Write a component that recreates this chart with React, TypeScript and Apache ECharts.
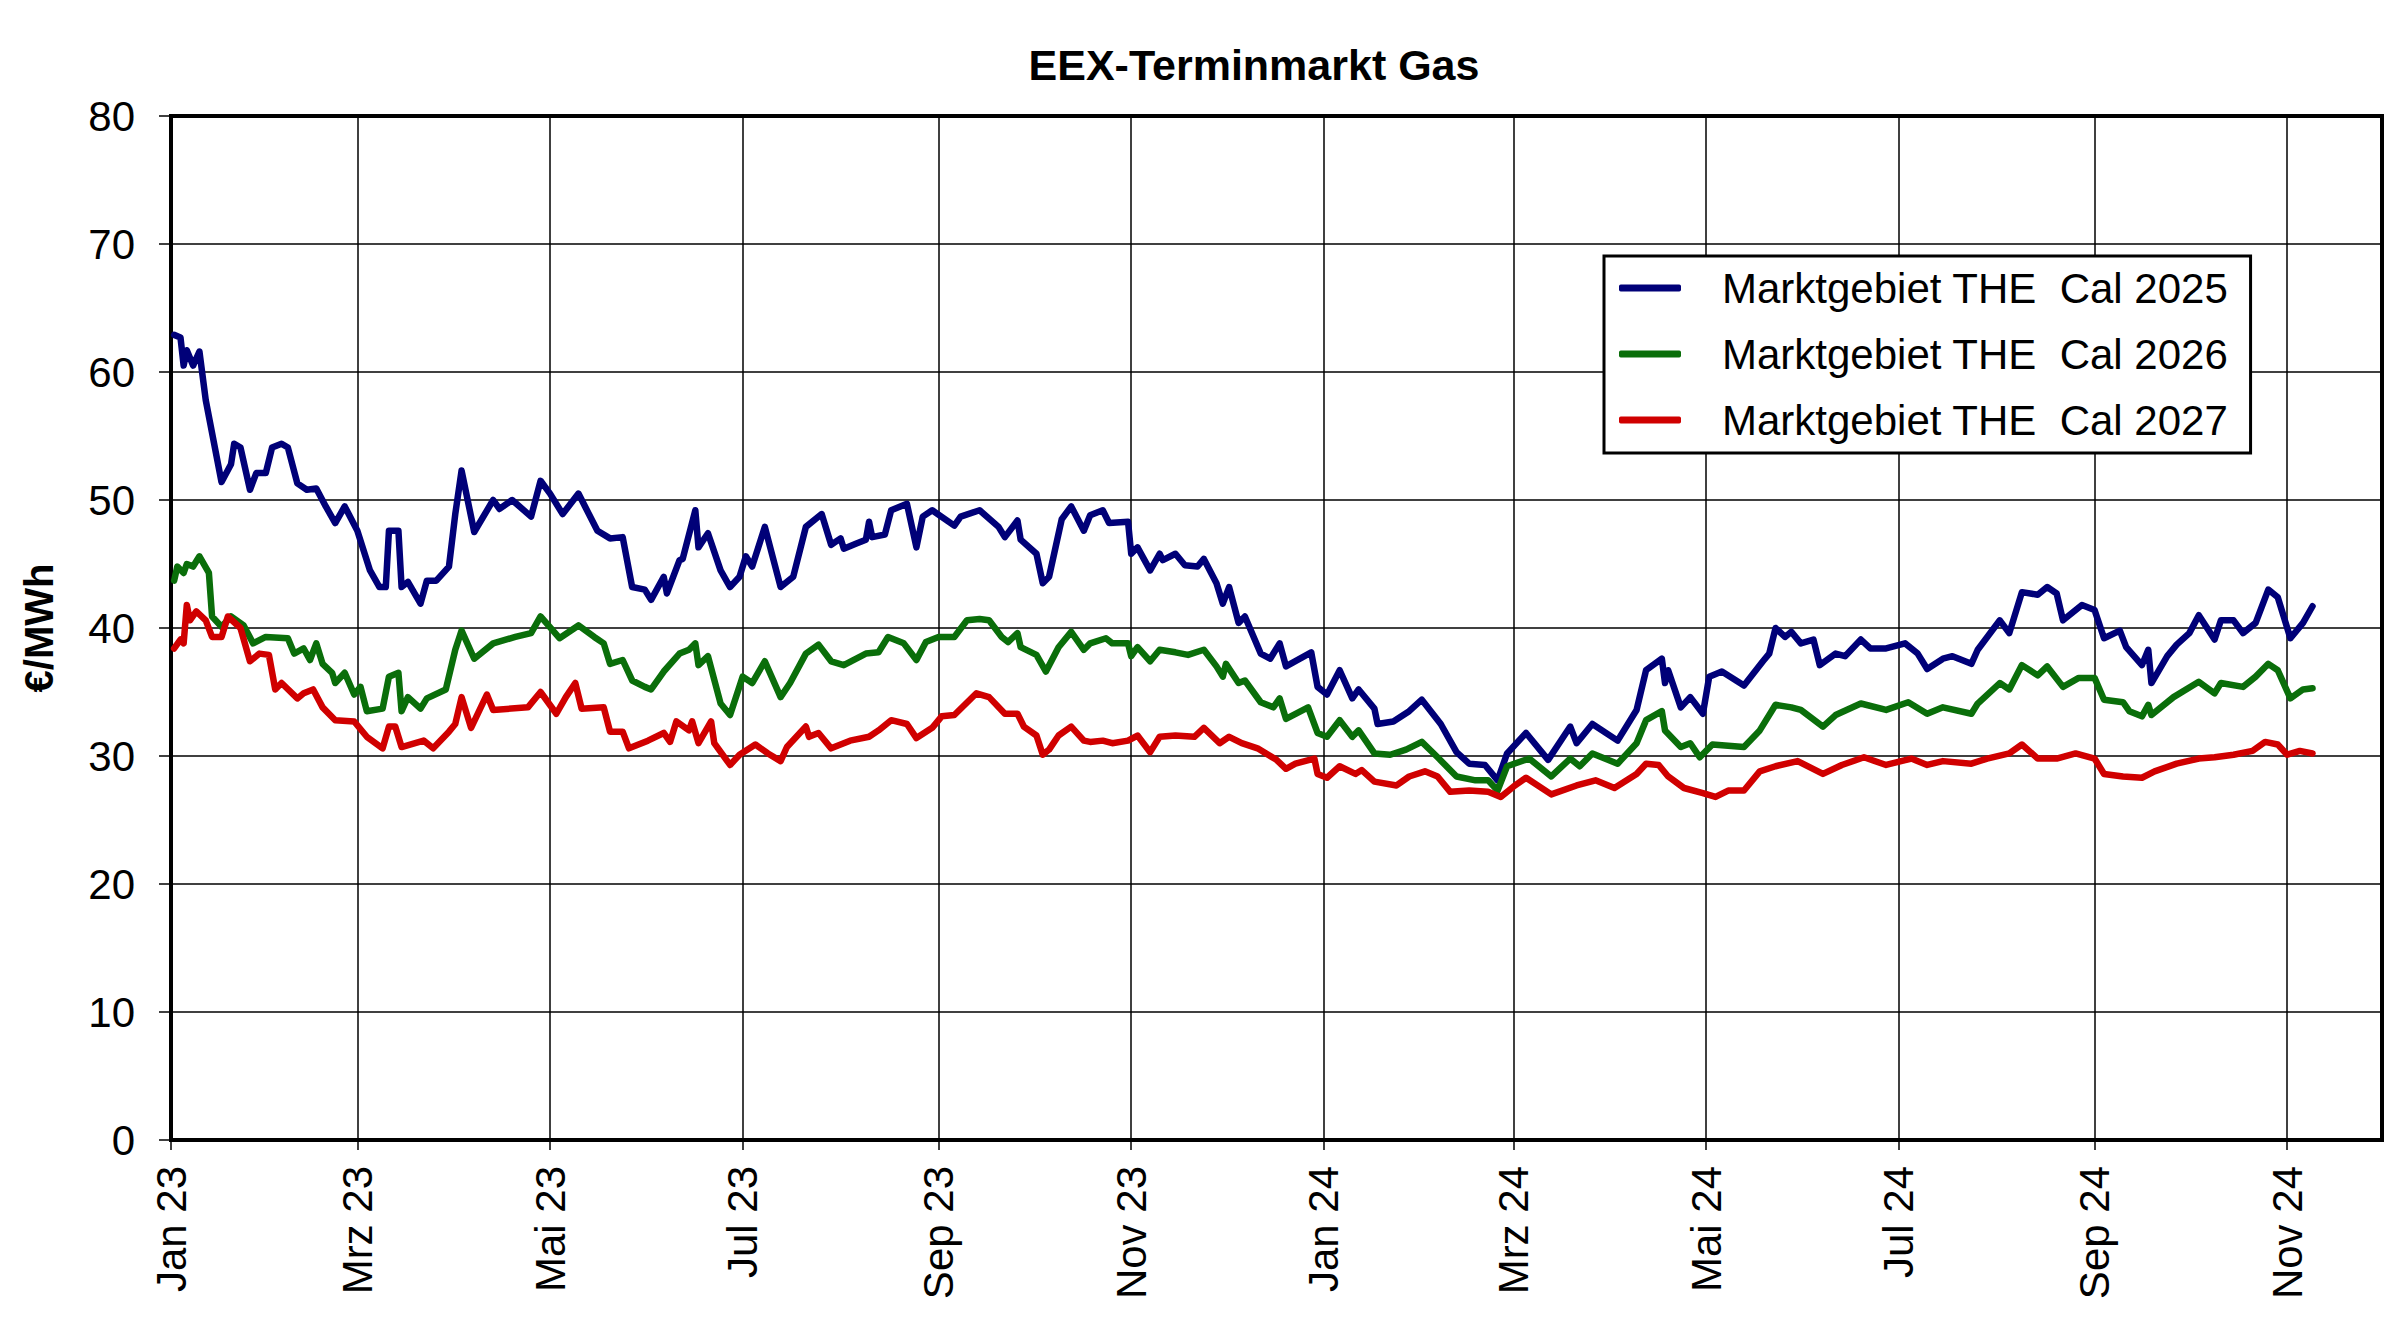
import React, { useEffect, useRef } from "react";
import * as echarts from "echarts";

const TITLE = "EEX-Terminmarkt Gas";
const Y_AXIS_NAME = "€/MWh";
const START_DATE = "2023-01-01";
const END_DATE = "2024-12-01";
const MONTH_LABELS = ["Jan", "Feb", "Mrz", "Apr", "Mai", "Jun", "Jul", "Aug", "Sep", "Okt", "Nov", "Dez"];
const LABELLED_MONTHS = [0, 2, 4, 6, 8, 10];
const Y_MIN = 0;
const Y_MAX = 80;
const Y_STEP = 10;

const SERIES_NAMES = [
  "Marktgebiet THE  Cal 2025",
  "Marktgebiet THE  Cal 2026",
  "Marktgebiet THE  Cal 2027",
];
const SERIES_COLORS = ["#000078", "#0a6e0a", "#d00000"];

// x values: days since 1 Jan 2023
const cal2025Days = [
  1, 3, 4, 5, 7, 9, 11, 16, 19, 20, 22, 25, 27, 30, 32, 35, 37, 40, 43, 46, 49, 52, 55, 59, 63, 66, 68, 69, 72, 73,
  75, 79, 81, 84, 88, 90, 92, 96, 102, 104, 108, 114, 117, 120, 124, 129, 135, 139, 143, 146, 150, 152, 156, 157, 161, 162,
  166, 167, 170, 174, 177, 180, 182, 184, 188, 193, 197, 201, 206, 209, 212, 213, 217, 220, 221, 222, 226, 228, 233, 236,
  238, 241, 248, 250, 256, 262, 264, 268, 269, 274, 276, 278, 282, 285, 289, 291, 295, 297, 303, 304, 306, 310, 313, 314,
  318, 321, 325, 327, 331, 333, 335, 338, 340, 345, 348, 351, 353, 361, 363, 366, 370, 374, 376, 381, 382, 387, 392, 396,
  402, 407, 411, 416, 420, 423, 429, 436, 443, 445, 450, 458, 464, 467, 472, 473, 474, 478, 481, 485, 487, 491, 498, 504,
  506, 508, 511, 513, 516, 520, 522, 527, 530, 535, 538, 543, 549, 553, 556, 561, 564, 570, 572, 579, 582, 586, 591, 594,
  597, 599, 605, 609, 612, 617, 619, 624, 626, 627, 632, 635, 639, 642, 647, 649, 653, 656, 660, 664, 667, 671, 675, 678,
];
const cal2025Values = [
  62.9, 62.7, 60.5, 61.7, 60.5, 61.6, 57.8, 51.4, 52.8, 54.4, 54.1, 50.8, 52.1, 52.1, 54.1, 54.4, 54.1, 51.3, 50.8, 50.9,
  49.5, 48.2, 49.5, 47.6, 44.5, 43.2, 43.2, 47.6, 47.6, 43.2, 43.6, 41.9, 43.7, 43.7, 44.8, 48.9, 52.3, 47.5, 50.0, 49.3,
  50.0, 48.7, 51.5, 50.5, 48.9, 50.5, 47.6, 47.0, 47.1, 43.2, 43.0, 42.2, 44.0, 42.7, 45.3, 45.4, 49.2, 46.3, 47.4, 44.5,
  43.2, 44.0, 45.6, 44.8, 47.9, 43.2, 44.0, 47.9, 48.9, 46.5, 47.0, 46.2, 46.6, 46.9, 48.3, 47.1, 47.3, 49.2, 49.7, 46.3,
  48.7, 49.2, 48.0, 48.7, 49.2, 47.9, 47.1, 48.4, 46.9, 45.8, 43.5, 44.0, 48.5, 49.5, 47.6, 48.8, 49.2, 48.2, 48.3, 45.8,
  46.3, 44.5, 45.8, 45.3, 45.8, 44.9, 44.8, 45.4, 43.5, 41.9, 43.2, 40.4, 40.9, 38.0, 37.6, 38.8, 37.0, 38.1, 35.4, 34.8,
  36.7, 34.5, 35.2, 33.7, 32.5, 32.7, 33.5, 34.4, 32.5, 30.3, 29.4, 29.3, 28.1, 30.2, 31.8, 29.7, 32.3, 31.0, 32.5, 31.2,
  33.6, 36.7, 37.6, 35.7, 36.7, 33.8, 34.6, 33.3, 36.2, 36.6, 35.5, 37.4, 38.0, 40.0, 39.3, 39.7, 38.8, 39.1, 37.1, 38.0,
  37.8, 39.1, 38.4, 38.4, 38.8, 38.0, 36.8, 37.6, 37.8, 37.2, 38.3, 40.6, 39.6, 42.8, 42.6, 43.2, 42.7, 40.6, 41.8, 41.4,
  39.2, 39.8, 38.5, 37.1, 38.3, 35.7, 37.8, 38.7, 39.6, 41.0, 39.1, 40.6, 40.6, 39.6, 40.4, 43.0, 42.4, 39.2, 40.4, 41.7,
];

const cal2026Days = [
  1, 2, 4, 5, 7, 9, 12, 13, 16, 19, 23, 26, 30, 37, 39, 42, 44, 46, 48, 51, 52, 55, 58, 60, 62, 67, 69, 72, 73, 75, 79,
  81, 87, 90, 92, 96, 102, 109, 114, 117, 123, 129, 134, 137, 139, 143, 146, 150, 152, 156, 161, 164, 166, 167, 170, 174,
  177, 181, 184, 188, 193, 196, 201, 205, 209, 213, 220, 224, 227, 232, 236, 239, 243, 248, 252, 256, 259, 263, 265, 268,
  269, 274, 277, 281, 285, 289, 291, 296, 298, 303, 304, 306, 310, 313, 318, 322, 327, 331, 333, 334, 338, 340, 345, 349,
  351, 353, 360, 363, 366, 370, 374, 376, 381, 386, 391, 396, 401, 407, 413, 417, 420, 423, 430, 437, 443, 446, 450, 458,
  464, 467, 472, 473, 478, 481, 484, 488, 498, 503, 508, 513, 516, 523, 527, 535, 543, 550, 556, 561, 570, 572, 579, 582,
  586, 591, 594, 599, 604, 609, 612, 618, 620, 624, 626, 627, 634, 642, 647, 649, 656, 660, 664, 667, 671, 675, 678,
];
const cal2026Values = [
  43.7, 44.8, 44.3, 45.0, 44.8, 45.6, 44.3, 40.9, 40.1, 40.9, 40.2, 38.8, 39.3, 39.2, 38.0, 38.4, 37.5, 38.8, 37.2, 36.5,
  35.7, 36.5, 34.8, 35.4, 33.5, 33.7, 36.2, 36.5, 33.5, 34.6, 33.7, 34.5, 35.2, 38.3, 39.8, 37.6, 38.8, 39.3, 39.6, 40.9,
  39.2, 40.2, 39.3, 38.8, 37.2, 37.5, 35.9, 35.4, 35.2, 36.6, 38.0, 38.3, 38.8, 37.1, 37.8, 34.1, 33.2, 36.2, 35.7, 37.4,
  34.6, 35.7, 38.0, 38.7, 37.4, 37.1, 38.0, 38.1, 39.3, 38.8, 37.5, 38.9, 39.3, 39.3, 40.6, 40.7, 40.6, 39.3, 38.9, 39.6,
  38.5, 37.9, 36.6, 38.5, 39.7, 38.3, 38.8, 39.2, 38.8, 38.8, 37.8, 38.5, 37.4, 38.3, 38.1, 37.9, 38.3, 37.0, 36.2, 37.2,
  35.7, 35.9, 34.2, 33.8, 34.5, 32.9, 33.8, 31.8, 31.5, 32.8, 31.5, 32.0, 30.2, 30.1, 30.5, 31.1, 29.9, 28.4, 28.1, 28.1,
  27.3, 29.2, 29.8, 28.4, 29.8, 29.2, 30.2, 29.4, 31.0, 32.8, 33.5, 32.0, 30.7, 31.0, 29.9, 30.9, 30.7, 32.0, 34.0, 33.8,
  33.6, 32.3, 33.2, 34.1, 33.6, 34.2, 33.3, 33.8, 33.3, 34.1, 35.7, 35.2, 37.1, 36.3, 37.0, 35.4, 36.1, 36.1, 34.4, 34.2,
  33.5, 33.1, 34.0, 33.2, 34.6, 35.8, 34.9, 35.7, 35.4, 36.2, 37.2, 36.7, 34.5, 35.2, 35.3,
];

const cal2027Days = [
  1, 3, 4, 5, 6, 8, 11, 13, 16, 18, 22, 25, 28, 31, 33, 35, 40, 42, 45, 48, 52, 58, 62, 67, 69, 71, 73, 80, 83, 88, 90,
  92, 95, 100, 102, 113, 117, 122, 125, 128, 130, 137, 139, 143, 145, 151, 156, 158, 160, 164, 165, 167, 171, 172, 177,
  180, 185, 189, 193, 195, 201, 202, 205, 209, 215, 221, 224, 228, 233, 236, 241, 244, 248, 255, 259, 264, 268, 270, 274,
  276, 278, 281, 285, 289, 291, 295, 298, 303, 306, 310, 313, 318, 324, 327, 332, 335, 339, 344, 350, 353, 356, 362, 363,
  366, 370, 375, 377, 381, 388, 392, 397, 401, 405, 411, 417, 421, 425, 429, 437, 445, 451, 457, 464, 467, 471, 474, 479,
  485, 489, 493, 498, 503, 508, 515, 523, 529, 536, 543, 551, 556, 561, 570, 575, 582, 586, 591, 597, 603, 609, 612, 618,
  624, 628, 635, 642, 647, 653, 659, 663, 667, 670, 674, 678,
];
const cal2027Values = [
  38.4, 39.1, 38.8, 41.8, 40.6, 41.3, 40.6, 39.3, 39.3, 40.9, 40.0, 37.4, 38.0, 37.9, 35.2, 35.7, 34.5, 34.9, 35.2, 33.8,
  32.8, 32.7, 31.5, 30.6, 32.3, 32.3, 30.7, 31.2, 30.6, 31.9, 32.5, 34.6, 32.2, 34.8, 33.6, 33.8, 35.0, 33.3, 34.6, 35.7,
  33.7, 33.8, 31.9, 31.9, 30.6, 31.2, 31.8, 31.1, 32.7, 32.0, 32.7, 31.0, 32.7, 31.0, 29.3, 30.1, 30.9, 30.2, 29.6, 30.7,
  32.3, 31.5, 31.8, 30.6, 31.2, 31.5, 32.0, 32.8, 32.5, 31.4, 32.2, 33.1, 33.2, 34.9, 34.6, 33.3, 33.3, 32.3, 31.6, 30.1,
  30.5, 31.6, 32.3, 31.2, 31.1, 31.2, 31.0, 31.2, 31.6, 30.3, 31.5, 31.6, 31.5, 32.2, 31.0, 31.5, 31.0, 30.6, 29.7, 29.0,
  29.4, 29.8, 28.6, 28.3, 29.2, 28.6, 28.9, 28.0, 27.7, 28.4, 28.8, 28.4, 27.2, 27.3, 27.2, 26.8, 27.6, 28.3, 27.0, 27.7,
  28.1, 27.5, 28.6, 29.4, 29.3, 28.4, 27.5, 27.1, 26.8, 27.3, 27.3, 28.8, 29.2, 29.6, 28.6, 29.3, 29.9, 29.3, 29.8, 29.3,
  29.6, 29.4, 29.8, 30.2, 30.9, 29.8, 29.8, 30.2, 29.8, 28.6, 28.4, 28.3, 28.8, 29.4, 29.8, 29.9, 30.1, 30.4, 31.1, 30.9,
  30.1, 30.4, 30.2,
];

const FONT = "'Liberation Sans', Arial, sans-serif";

function buildCategories(start: string, end: string): string[] {
  const out: string[] = [];
  const d = new Date(start + "T00:00:00Z");
  const e = new Date(end + "T00:00:00Z");
  while (d.getTime() <= e.getTime()) {
    out.push(d.toISOString().slice(0, 10));
    d.setUTCDate(d.getUTCDate() + 1);
  }
  return out;
}

function isLabelDay(value: string): boolean {
  const m = Number(value.slice(5, 7)) - 1;
  const day = Number(value.slice(8, 10));
  return day === 1 && LABELLED_MONTHS.indexOf(m) >= 0;
}

function formatLabel(value: string): string {
  const m = Number(value.slice(5, 7)) - 1;
  return MONTH_LABELS[m] + " " + value.slice(2, 4);
}

function pairs(days: number[], values: number[]) {
  return days.map((d, i) => [d, values[i]]);
}

export default function App() {
  const ref = useRef<HTMLDivElement>(null);

  useEffect(() => {
    if (!ref.current) return;
    const chart = echarts.init(ref.current, undefined, { renderer: "svg" });
    const categories = buildCategories(START_DATE, END_DATE);
    const intervalFn = (_i: number, v: string) => isLabelDay(v);
    const seriesData = [
      pairs(cal2025Days, cal2025Values),
      pairs(cal2026Days, cal2026Values),
      pairs(cal2027Days, cal2027Values),
    ];

    chart.setOption({
      animation: false,
      backgroundColor: "#ffffff",
      title: {
        text: TITLE,
        left: 1249,
        top: 38,
        textAlign: "center",
        textStyle: { fontFamily: FONT, fontSize: 43, fontWeight: "bold", color: "#000" },
      },
      legend: {
        orient: "vertical",
        left: 1604,
        top: 256,
        padding: [9, 22, 10, 15],
        backgroundColor: "#ffffff",
        borderColor: "#000",
        borderWidth: 3,
        icon: "roundRect",
        itemWidth: 62,
        itemHeight: 7,
        itemGap: 20,
        selectedMode: false,
        data: SERIES_NAMES,
        textStyle: {
          fontFamily: FONT,
          fontSize: 42,
          color: "#000",
          lineHeight: 46,
          padding: [0, 0, 0, 36],
        },
      },
      grid: {
        left: 171,
        right: 18,
        top: 116,
        bottom: 194,
        show: true,
        borderColor: "#000",
        borderWidth: 4,
        backgroundColor: "transparent",
        containLabel: false,
      },
      xAxis: {
        type: "category",
        data: categories,
        boundaryGap: false,
        axisLine: { show: true, lineStyle: { color: "#000", width: 4 } },
        axisTick: { show: true, interval: intervalFn, length: 10, lineStyle: { color: "#000", width: 1.5 } },
        axisLabel: {
          interval: intervalFn,
          rotate: 90,
          margin: 26,
          fontFamily: FONT,
          fontSize: 42,
          color: "#000",
          formatter: (v: string) => formatLabel(v),
        },
        splitLine: { show: true, interval: intervalFn, lineStyle: { color: "#000", width: 1.5 } },
      },
      yAxis: {
        type: "value",
        min: Y_MIN,
        max: Y_MAX,
        interval: Y_STEP,
        name: Y_AXIS_NAME,
        nameLocation: "middle",
        nameGap: 112,
        nameTextStyle: { fontFamily: FONT, fontSize: 40, fontWeight: "bold", color: "#000" },
        axisLine: { show: true, lineStyle: { color: "#000", width: 4 } },
        axisTick: { show: true, length: 12, lineStyle: { color: "#000", width: 1.5 } },
        axisLabel: { margin: 36, fontFamily: FONT, fontSize: 42, color: "#000" },
        splitLine: { show: true, lineStyle: { color: "#000", width: 1.5 } },
      },
      series: SERIES_NAMES.map((name, i) => ({
        name,
        type: "line",
        data: seriesData[i],
        symbol: "none",
        showSymbol: false,
        color: SERIES_COLORS[i],
        lineStyle: { color: SERIES_COLORS[i], width: 6.5, join: "round", cap: "round" },
        z: 3 + i,
      })),
    });

    return () => {
      chart.dispose();
    };
  }, []);

  return (
    <div
      ref={ref}
      style={{ position: "fixed", left: 0, top: 0, width: "2400px", height: "1334px", background: "#fff" }}
    />
  );
}
